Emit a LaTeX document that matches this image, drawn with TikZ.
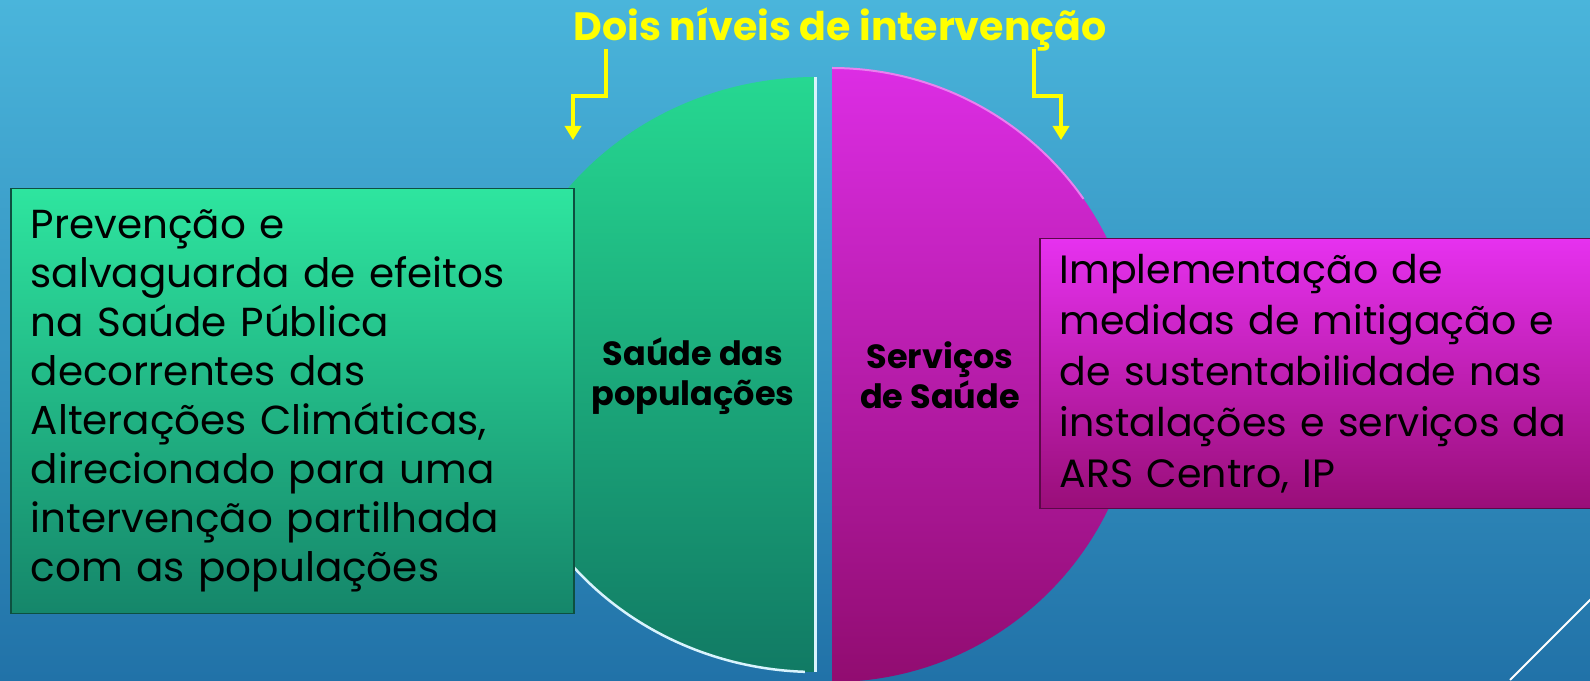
\documentclass[tikz,border=0pt]{standalone}
\usepackage{fontspec}
\setmainfont{Poppins}
\usetikzlibrary{arrows.meta}
\definecolor{bgtop}{HTML}{4AB5DB}
\definecolor{bgbot}{HTML}{2172A8}
\definecolor{grntop}{HTML}{2EE59F}
\definecolor{grnbot}{HTML}{15866A}
\definecolor{gdisctop}{HTML}{26D891}
\definecolor{gdiscbot}{HTML}{117A64}
\definecolor{magtop}{HTML}{DC2DE4}
\definecolor{magbot}{HTML}{910C70}
\definecolor{mboxtop}{HTML}{E631EF}
\definecolor{mboxbot}{HTML}{990E78}
\definecolor{titleyel}{HTML}{FFFF00}

\begin{document}
\begin{tikzpicture}[x=1pt,y=1pt,
    boxtext/.style={anchor=north west,align=left,inner xsep=20pt,inner ysep=0pt},
    grnbox/.style={boxtext,top color=grntop,bottom color=grnbot,draw=grnbot!60!black,line width=1.5pt,
      font=\fontsize{40.5}{49}\selectfont},
    magbox/.style={boxtext,top color=mboxtop,bottom color=mboxbot,draw=mboxbot!60!black,line width=1.5pt,
      font=\fontsize{39.5}{51}\selectfont},
    disclabel/.style={align=center,font=\bfseries\fontsize{33.5}{40}\selectfont},
    yelarrow/.style={draw=titleyel,line width=4pt,-{Triangle[width=16pt,length=14pt]}}]
    % Background
    \clip (0,0) rectangle (1590,680);
    \shade[top color=bgtop,bottom color=bgbot] (0,0) rectangle (1590,680);
    \draw[white,line width=2pt] (1510,0) -- (1592,82);
    % Green half disc
    \shade[top color=gdisctop,bottom color=gdiscbot]
      (816,603) arc[start angle=90,end angle=270,x radius=318,y radius=297.5] -- cycle;
    \draw[cyan!15!white,line width=3pt] (815,603) -- (815,8);
    \draw[white!85!cyan,line width=2.5pt]
      (816,305.5) ++(220:318 and 297.5) arc[start angle=220,end angle=268,x radius=318,y radius=297.5];
    % Magenta half disc
    \shade[top color=magtop,bottom color=magbot]
      (832,612) arc[start angle=90,end angle=-90,radius=307] -- cycle;
    \draw[magtop!60!white,line width=2pt]
      (832,612) arc[start angle=90,end angle=35,radius=307];
    % Side boxes
    \node[grnbox,minimum width=563pt,minimum height=425pt,text width=523pt] (prev) at (10,492)
      {Prevenção e\\ salvaguarda de efeitos\\ na Saúde Pública\\ decorrentes das\\ Alterações Climáticas,\\
       direcionado para uma\\ intervenção partilhada\\ com as populações};
    \node[magbox,minimum width=600pt,minimum height=270pt,text width=560pt,inner xsep=19pt] (impl) at (1039,442)
      {Implementação de\\ medidas de mitigação e\\ de sustentabilidade nas\\ instalações e serviços da\\ ARS Centro, IP};
    % Disc labels
    \node[disclabel] (saude) at (693,304) {Saúde das\\ populações};
    \node[disclabel] (servicos) at (940,305) {Serviços\\ de Saúde};
    % Title and arrows
    \node[text=titleyel,font=\bfseries\fontsize{39.5}{44}\selectfont] (title) at (840,651) {Dois níveis de intervenção};
    \coordinate (lstart) at (606,631);
    \coordinate (lend) at (573,540);
    \coordinate (rstart) at (1034,631);
    \coordinate (rend) at (1061,540);
    \draw[yelarrow] (lstart) -- ++(0,-47) -| (lend);
    \draw[yelarrow] (rstart) -- ++(0,-47) -| (rend);
\end{tikzpicture}
\end{document}
